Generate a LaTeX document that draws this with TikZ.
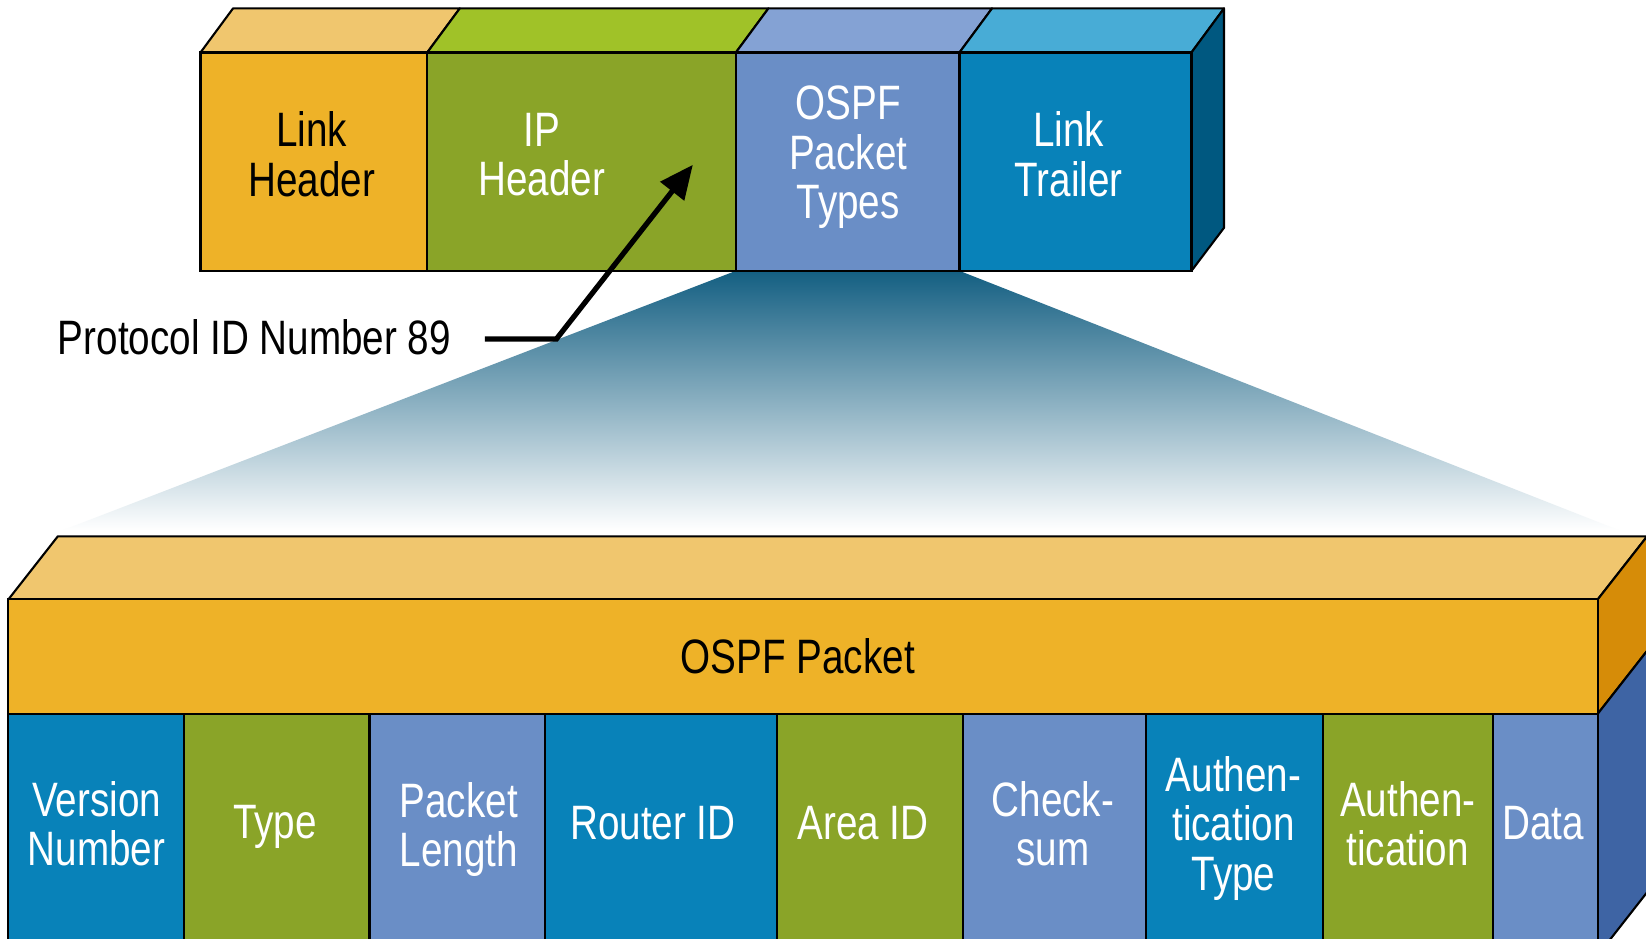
\documentclass[tikz,border=0pt]{standalone}
\usepackage{fontspec}
\setmainfont{Liberation Sans}[FakeStretch=0.8]
\usetikzlibrary{arrows.meta}
\definecolor{cOr}{RGB}{238,178,40}
\definecolor{cOrTop}{RGB}{240,198,110}
\definecolor{cOrSide}{RGB}{214,140,8}
\definecolor{cGr}{RGB}{138,164,40}
\definecolor{cGrTop}{RGB}{160,194,40}
\definecolor{cPe}{RGB}{106,142,198}
\definecolor{cPeTop}{RGB}{132,162,212}
\definecolor{cBl}{RGB}{8,130,185}
\definecolor{cBlTop}{RGB}{72,172,214}
\definecolor{cBlSide}{RGB}{0,88,128}
\definecolor{cSideBl}{RGB}{62,100,164}
\definecolor{cShade}{RGB}{20,95,130}
\tikzset{
  face/.style={draw=black, line width=2pt, line join=round},
  cell/.style={draw=black, line width=2pt, inner sep=0pt, outer sep=0pt},
  txt/.style={inner sep=0pt, align=center, font=\fontsize{46}{47}\selectfont},
  wtxt/.style={txt, text=white},
  btxt/.style={txt, text=black},
}
\begin{document}
\begin{tikzpicture}[x=1pt,y=-1pt]
\useasboundingbox (0,0) rectangle (1568,894);
\fill[white] (0,0) rectangle (1568,894);
% gradient funnel
\shade[top color=cShade, bottom color=white] (701,258) -- (914,258) -- (1542,505) -- (60,505) -- cycle;
% top box: top and side faces
\filldraw[face, fill=cOrTop] (191,50) -- (222,8) -- (438,8) -- (407,50) -- cycle;
\filldraw[face, fill=cGrTop] (407,50) -- (438,8) -- (732,8) -- (701,50) -- cycle;
\filldraw[face, fill=cPeTop] (701,50) -- (732,8) -- (945,8) -- (914,50) -- cycle;
\filldraw[face, fill=cBlTop] (914,50) -- (945,8) -- (1166,8) -- (1135,50) -- cycle;
\filldraw[face, fill=cBlSide] (1135,50) -- (1166,8) -- (1166,217) -- (1135,258) -- cycle;
% top box front cells
\node[cell, fill=cOr, minimum width=216pt, minimum height=208pt] (lh) at (299,154) {};
\node[cell, fill=cGr, minimum width=294pt, minimum height=208pt] (ip) at (554,154) {};
\node[cell, fill=cPe, minimum width=213pt, minimum height=208pt] (ot) at (807.5,154) {};
\node[cell, fill=cBl, minimum width=221pt, minimum height=208pt] (lt) at (1024.5,154) {};
\node[btxt] (lhT) at (297,147) {Link\\Header};
\node[wtxt] (ipT) at (516,147) {IP\\Header};
\node[wtxt] (otT) at (808,150) {OSPF\\Packet\\Types};
\node[wtxt] (ltT) at (1018,147) {Link\\Trailer};
% protocol label and arrow
\node[btxt, anchor=base west] (pid) at (55,338) {Protocol ID Number 89};
\coordinate (lstart) at (462,323);
\coordinate (bend) at (530,323);
\coordinate (tip) at (660,157);
\draw[line width=5pt, -{Triangle[length=32pt,width=28pt]}] (lstart) -- (bend) -- (tip);
% bottom box: top and side faces
\filldraw[face, fill=cOrTop] (8,571) -- (55,511) -- (1569,511) -- (1522,571) -- cycle;
\filldraw[face, fill=cOrSide] (1522,571) -- (1569,511) -- (1569,620) -- (1522,680) -- cycle;
\filldraw[face, fill=cSideBl] (1522,680) -- (1569,620) -- (1569,850) -- (1522,910) -- cycle;
% OSPF packet band
\node[cell, fill=cOr, minimum width=1514pt, minimum height=109pt] (op) at (765,625.5) {};
\node[btxt] (opT) at (760,625) {OSPF Packet};
% fields
\node[cell, fill=cBl, minimum width=167pt, minimum height=240pt] (f1) at (91.5,800) {};
\node[cell, fill=cGr, minimum width=177pt, minimum height=240pt] (f2) at (263.5,800) {};
\node[cell, fill=cPe, minimum width=167pt, minimum height=240pt] (f3) at (435.5,800) {};
\node[cell, fill=cBl, minimum width=221pt, minimum height=240pt] (f4) at (629.5,800) {};
\node[cell, fill=cGr, minimum width=177pt, minimum height=240pt] (f5) at (828.5,800) {};
\node[cell, fill=cPe, minimum width=175pt, minimum height=240pt] (f6) at (1004.5,800) {};
\node[cell, fill=cBl, minimum width=168pt, minimum height=240pt] (f7) at (1176,800) {};
\node[cell, fill=cGr, minimum width=162pt, minimum height=240pt] (f8) at (1341,800) {};
\node[cell, fill=cPe, minimum width=100pt, minimum height=240pt] (f9) at (1472,800) {};
\node[wtxt] (t1) at (92,785) {Version\\Number};
\node[wtxt] (t2) at (262,788) {Type};
\node[wtxt] (t3) at (437,790) {Packet\\Length};
\node[wtxt] (t4) at (622,784) {Router ID};
\node[wtxt] (t5) at (822,784) {Area ID};
\node[wtxt] (t6) at (1003,785) {Check-\\sum};
\node[wtxt] (t7) at (1175,789) {Authen-\\tication\\Type};
\node[wtxt] (t8) at (1341,785) {Authen-\\tication};
\node[wtxt] (t9) at (1470,784) {Data};
\end{tikzpicture}
\end{document}
